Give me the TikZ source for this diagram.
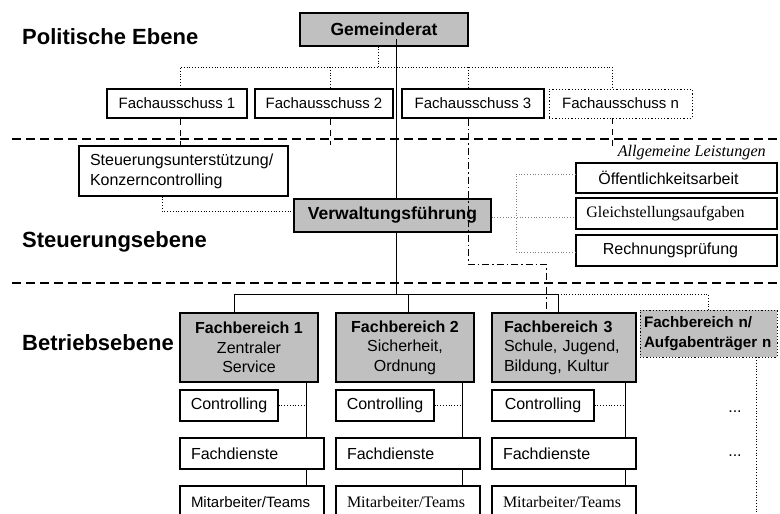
\documentclass[tikz,border=0pt]{standalone}
\usepackage{fontspec}
\setmainfont{Liberation Sans}
\newfontfamily\timesf{Liberation Serif}
\definecolor{boxgray}{RGB}{192,192,192}
\begin{document}
\begin{tikzpicture}[x=1pt,y=-1pt,
  box/.style={draw, line width=1.2pt, inner sep=0pt, fill=white, font=\fontsize{15}{18}\selectfont},
  gbox/.style={box, fill=boxgray},
  dbox/.style={dotted, line width=0.8pt},
  lbox/.style={box, align=left, inner xsep=11pt},
  lay/.style={anchor=west, inner sep=0pt, font=\bfseries\fontsize{22}{26}\selectfont},
  conn/.style={line width=0.9pt},
  dotl/.style={dotted, line width=0.8pt},
  graydot/.style={dotted, line width=0.8pt, gray},
  shortdash/.style={line width=0.8pt, dash pattern=on 6pt off 5pt},
  dashdotl/.style={line width=0.9pt, dash pattern=on 7pt off 3pt on 1.5pt off 3pt},
  layerdash/.style={line width=1.7pt, dash pattern=on 9pt off 5pt}]
\clip (0,0) rectangle (780,514);
\fill[white] (0,0) rectangle (780,514);

% layer labels
\node[lay] (lpol) at (22,37) {Politische Ebene};
\node[lay] (lsteu) at (22,242) {Steuerungsebene};
\node[lay] (lbetr) at (22,343) {Betriebsebene};

% political level
\node[gbox, minimum width=168pt, minimum height=33pt, font=\bfseries\fontsize{17.5}{20}\selectfont] (gem) at (384,29.5) {Gemeinderat};
\node[box, minimum width=140pt, minimum height=29pt] (fa1) at (177,103.5) {Fachausschuss 1};
\node[box, minimum width=138pt, minimum height=29pt] (fa2) at (324,103.5) {Fachausschuss 2};
\node[box, minimum width=142pt, minimum height=29pt] (fa3) at (473,103.5) {Fachausschuss 3};
\node[box, dbox, minimum width=143pt, minimum height=29pt] (fan) at (620.5,103.5) {Fachausschuss n};

% steering level
\node[lbox, minimum width=209pt, minimum height=50pt, text width=187pt, font=\fontsize{16}{20}\selectfont] (steu) at (183.5,171) {Steuerungsunterstützung/\\Konzerncontrolling};
\node[gbox, minimum width=197pt, minimum height=33pt, font=\bfseries\fontsize{17.5}{20}\selectfont] (vf) at (392.5,215.5) {Verwaltungsführung};
\node[anchor=east, inner sep=0pt, font=\timesf\itshape\fontsize{16.2}{18}\selectfont] (allg) at (766,153) {Allgemeine Leistungen};
\node[box, minimum width=201pt, minimum height=30pt, font=\fontsize{16}{19}\selectfont] (oeff) at (676.5,178) {\hspace*{-16pt}Öffentlichkeitsarbeit};
\node[box, minimum width=201pt, minimum height=31pt, font=\timesf\fontsize{16}{19}\selectfont] (gleich) at (676.5,213.5) {\hspace*{-22pt}Gleichstellungsaufgaben};
\node[box, minimum width=201pt, minimum height=31pt, font=\fontsize{16}{19}\selectfont] (rech) at (676.5,250.5) {\hspace*{-12pt}Rechnungsprüfung};

% operational level
\node[gbox, minimum width=138pt, minimum height=69pt, align=center, font=\fontsize{16}{19.5}\selectfont] (fb1) at (249,347.5) {\textbf{Fachbereich 1}\\Zentraler\\Service};
\node[gbox, minimum width=138pt, minimum height=69pt, align=center, font=\fontsize{16}{19.5}\selectfont] (fb2) at (405,347.5) {\textbf{Fachbereich 2}\\Sicherheit,\\Ordnung};
\node[gbox, minimum width=144pt, minimum height=69pt, align=left, inner xsep=12pt, text width=120pt, font=\fontsize{16}{19.5}\selectfont] (fb3) at (564,347.5) {\textbf{Fachbereich 3}\\Schule, Jugend,\\Bildung, Kultur};
\node[gbox, dbox, minimum width=137pt, minimum height=47pt, align=left, inner xsep=4pt, text width=129pt, font=\bfseries\fontsize{15.2}{20}\selectfont] (fbn) at (708.5,333.5) {Fachbereich n/\\Aufgabenträger n};

\node[box, minimum width=98pt, minimum height=31pt, font=\fontsize{16}{19}\selectfont] (ctrl1) at (229,405.5) {Controlling};
\node[box, minimum width=98pt, minimum height=31pt, font=\fontsize{16}{19}\selectfont] (ctrl2) at (385,405.5) {Controlling};
\node[box, minimum width=102pt, minimum height=31pt, font=\fontsize{16}{19}\selectfont] (ctrl3) at (543,405.5) {Controlling};

\node[lbox, minimum width=144pt, minimum height=31pt, text width=122pt, font=\fontsize{16}{19}\selectfont] (fd1) at (252,453.5) {Fachdienste};
\node[lbox, minimum width=144pt, minimum height=31pt, text width=122pt, font=\fontsize{16}{19}\selectfont] (fd2) at (408,453.5) {Fachdienste};
\node[lbox, minimum width=144pt, minimum height=31pt, text width=122pt, font=\fontsize{16}{19}\selectfont] (fd3) at (564,453.5) {Fachdienste};

\node[lbox, minimum width=144pt, minimum height=36pt, text width=122pt, font=\fontsize{15}{18}\selectfont] (ma1) at (252,504) {Mitarbeiter/Teams\vphantom{g}};
\node[lbox, minimum width=144pt, minimum height=36pt, text width=122pt, font=\timesf\fontsize{16}{18}\selectfont] (ma2) at (408,504) {Mitarbeiter/Teams\vphantom{g}};
\node[lbox, minimum width=144pt, minimum height=36pt, text width=122pt, font=\timesf\fontsize{16}{18}\selectfont] (ma3) at (564,504) {Mitarbeiter/Teams\vphantom{g}};

\node[inner sep=0pt, font=\fontsize{16}{19}\selectfont] (dots1) at (735,412) {...};
\node[inner sep=0pt, font=\fontsize{16}{19}\selectfont] (dots2) at (735,456) {...};

% layer separators
\coordinate (L1a) at (12,139); \coordinate (L1b) at (780,139);
\coordinate (L2a) at (12,283); \coordinate (L2b) at (780,283);
\draw[layerdash] (L1a) -- (L1b);
\draw[layerdash] (L2a) -- (L2b);

% main solid line
\coordinate (bus) at (396,294);
\coordinate (gtop) at (396,39);
\draw[conn] (gtop) -- (vf.north -| bus);
\draw[conn] (vf.south -| bus) -- (bus);
\coordinate (b1) at (234,294);
\coordinate (b2) at (408,294);
\coordinate (b3) at (558,294);
\draw[conn] (b1 |- fb1.north) -- (b1) -- (b3) -- (b3 |- fb3.north);
\draw[conn] (b2) -- (b2 |- fb2.north);

% dotted committee links
\coordinate (t0) at (378,67);
\coordinate (tL) at (180,67);
\coordinate (t2) at (330,67);
\coordinate (t3) at (468,67);
\coordinate (tR) at (612,67);
\draw[dotl] (gem.south -| t0) -- (t0);
\draw[dotl] (tL |- fa1.north) -- (tL) -- (tR) -- (tR |- fan.north);
\draw[dotl] (t2) -- (t2 |- fa2.north);
\draw[dotl] (t3) -- (t3 |- fa3.north);
\draw[shortdash] (tL |- fa1.south) -- ++(0,26);
\draw[shortdash] (t2 |- fa2.south) -- ++(0,26);
\draw[shortdash] (tR |- fan.south) -- ++(0,28);

% dash-dot from Fachausschuss 3 to Fachbereich 3
\coordinate (dd1) at (468,264);
\coordinate (dd2) at (546,264);
\draw[dashdotl] (t3 |- fa3.south) -- (dd1) -- (dd2) -- (dd2 |- fb3.north);

% steering support
\coordinate (s1) at (162,211);
\draw[dotl] (s1 |- steu.south) -- (s1) -- (s1 -| vf.west);

% general services bracket
\coordinate (g0) at (516,217);
\coordinate (gT) at (516,174);
\coordinate (gB) at (516,252);
\draw[graydot] (vf.east |- g0) -- (g0 -| gleich.west);
\draw[graydot] (gT -| oeff.west) -- (gT) -- (gB) -- (gB -| rech.west);

% Fachbereich n
\coordinate (n1) at (708,294);
\coordinate (nb) at (756,514);
\draw[dotl] (b3) -- (n1) -- (n1 |- fbn.north);
\draw[dotl] (nb |- fbn.south) -- (nb);

% columns
\coordinate (c1) at (306,0);
\coordinate (c2) at (462,0);
\coordinate (c3) at (625,0);
\foreach \c/\f/\k/\d/\m in {c1/fb1/ctrl1/fd1/ma1, c2/fb2/ctrl2/fd2/ma2, c3/fb3/ctrl3/fd3/ma3}{
  \draw[conn] (\c |- \f.south) -- (\c |- \d.north);
  \draw[conn] (\c |- \d.south) -- (\c |- \m.north);
  \draw[dotl] (\k.east) -- (\k.east -| \c);
}
\end{tikzpicture}
\end{document}
